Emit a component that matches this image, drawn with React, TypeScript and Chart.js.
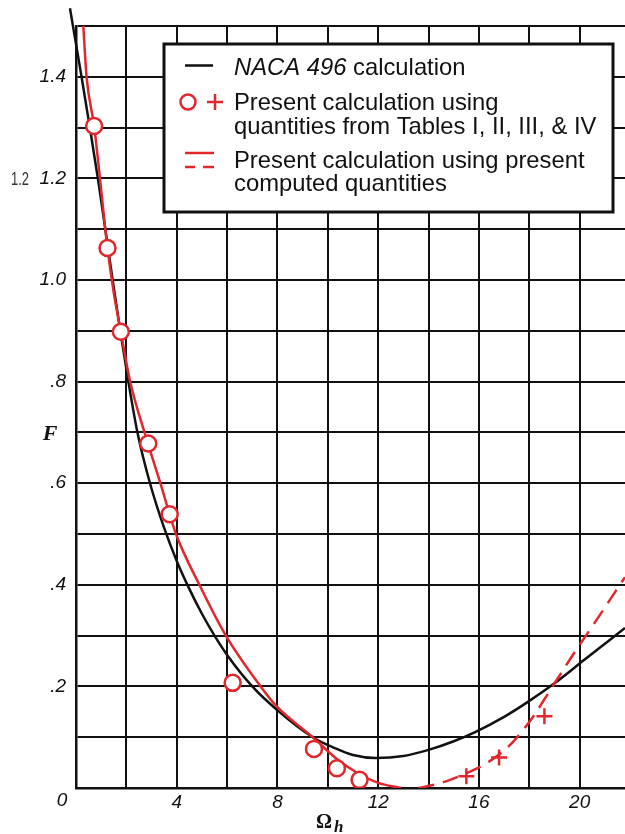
import React, { useEffect, useRef } from "react";
import { Chart, registerables } from "chart.js";

Chart.register(...registerables);

// ---------- data ----------
const nacaX = [-0.24, 0.22, 0.55, 0.9, 1.25, 1.5, 1.78, 2.08, 2.44, 2.95, 3.5, 4.0, 4.5, 5.0, 5.5, 6.0, 7.0, 8.0, 9.4, 10.3, 11.0, 11.9, 13.0, 14.0, 15.0, 15.85, 17.0, 17.9, 19.0, 20.2, 21.0, 21.8];
const nacaF = [1.535, 1.4, 1.3, 1.19, 1.07, 0.985, 0.893, 0.8, 0.7, 0.598, 0.512, 0.447, 0.392, 0.343, 0.3, 0.262, 0.2, 0.153, 0.1, 0.078, 0.065, 0.059, 0.063, 0.075, 0.092, 0.11, 0.14, 0.168, 0.206, 0.253, 0.284, 0.315];

const presentSolidX = [0.29, 0.42, 0.72, 1.25, 1.5, 1.78, 2.15, 2.72, 3.35, 3.97, 4.9, 5.95, 7.33, 8.0, 9.4, 10.36, 11.26, 12.0, 12.9];
const presentSolidF = [1.5, 1.4, 1.303, 1.063, 0.975, 0.898, 0.8, 0.7, 0.6, 0.5, 0.4, 0.3, 0.2, 0.159, 0.1, 0.057, 0.027, 0.01, 0.0];

const presentDashX = [13.6, 14.5, 15.45, 16.4, 17.3, 18.1, 18.9, 19.65, 20.7, 21.8];
const presentDashF = [0.0, 0.01, 0.028, 0.052, 0.088, 0.137, 0.198, 0.256, 0.333, 0.415];

const circleX = [0.72, 1.25, 1.78, 2.87, 3.72, 6.22, 9.45, 10.36, 11.26];
const circleF = [1.303, 1.063, 0.898, 0.678, 0.539, 0.207, 0.077, 0.039, 0.016];

const plusX = [15.5, 16.8, 18.6];
const plusF = [0.023, 0.06, 0.141];

const xTickLabels = ["4", "8", "12", "16", "20"];
const yTickLabels = [".2", ".4", ".6", ".8", "1.0", "1.2", "1.4"];

const legendLines = [
  "calculation",
  "Present calculation using",
  "quantities from Tables I, II, III, & IV",
  "Present calculation using present",
  "computed quantities",
];
const legendItalic = "NACA 496";

const RED = "#e1262c";
const BLACK = "#111111";

const pts = (xs: number[], ys: number[]) => xs.map((x, i) => ({ x, y: ys[i] }));

const decorPlugin = {
  id: "decor",
  afterDraw(chart: any) {
    const ctx = chart.ctx as CanvasRenderingContext2D;
    const xs = chart.scales.x;
    const ys = chart.scales.y;
    ctx.save();

    // "0" origin label
    ctx.fillStyle = BLACK;
    ctx.font = 'italic 19px "Liberation Sans", Arial, sans-serif';
    ctx.textAlign = "center";
    ctx.textBaseline = "middle";
    ctx.fillText("0", xs.getPixelForValue(0) - 14, ys.getPixelForValue(0) + 13);

    // F axis title
    ctx.font = 'bold italic 22px "Liberation Serif", "DejaVu Serif", serif';
    ctx.fillText("F", 50, ys.getPixelForValue(0.697));

    // Omega_h axis title
    ctx.font = 'bold 20px "Liberation Serif", "DejaVu Serif", serif';
    ctx.textAlign = "center";
    ctx.fillText("\u03A9", 324, 823);
    ctx.font = 'bold italic 17px "Liberation Serif", "DejaVu Serif", serif';
    ctx.textAlign = "left";
    ctx.fillText("h", 334, 828);

    // stray "1.2" annotation
    ctx.save();
    ctx.translate(20, ys.getPixelForValue(1.2) + 7);
    ctx.scale(0.68, 1);
    ctx.font = '19px "Liberation Sans", Arial, sans-serif';
    ctx.fillStyle = "#333";
    ctx.textAlign = "center";
    ctx.textBaseline = "alphabetic";
    ctx.fillText("1.2", 0, 0);
    ctx.restore();

    // legend box
    const bx = 164, by = 44, bw = 449, bh = 168;
    ctx.fillStyle = "#ffffff";
    ctx.fillRect(bx, by, bw, bh);
    ctx.strokeStyle = BLACK;
    ctx.lineWidth = 3;
    ctx.strokeRect(bx, by, bw, bh);

    // symbols
    ctx.lineWidth = 2.5;
    ctx.strokeStyle = BLACK;
    ctx.beginPath();
    ctx.moveTo(185, 65.5);
    ctx.lineTo(213, 65.5);
    ctx.stroke();

    ctx.strokeStyle = RED;
    ctx.beginPath();
    ctx.arc(188, 102, 7.5, 0, Math.PI * 2);
    ctx.stroke();
    ctx.beginPath();
    ctx.moveTo(207, 102);
    ctx.lineTo(223, 102);
    ctx.moveTo(215, 94);
    ctx.lineTo(215, 110);
    ctx.stroke();

    ctx.beginPath();
    ctx.moveTo(185, 153);
    ctx.lineTo(214, 153);
    ctx.moveTo(185, 167);
    ctx.lineTo(195, 167);
    ctx.moveTo(203, 167);
    ctx.lineTo(214, 167);
    ctx.stroke();

    // texts
    ctx.fillStyle = BLACK;
    ctx.textAlign = "left";
    ctx.textBaseline = "alphabetic";
    const tx = 234;
    ctx.font = 'italic 23.8px "Liberation Sans", Arial, sans-serif';
    ctx.fillText(legendItalic, tx, 75);
    const w = ctx.measureText(legendItalic + " ").width;
    ctx.font = '23.8px "Liberation Sans", Arial, sans-serif';
    ctx.fillText(legendLines[0], tx + w, 75);
    const baselines = [110, 134, 168, 191];
    for (let i = 1; i < legendLines.length; i++) {
      ctx.fillText(legendLines[i], tx, baselines[i - 1]);
    }

    ctx.restore();
  },
};

export default function App() {
  const ref = useRef<HTMLCanvasElement | null>(null);

  useEffect(() => {
    if (!ref.current) return;
    const tickFont = { family: '"Liberation Sans", Arial, sans-serif', size: 19, style: "italic" as const };
    const chart = new Chart(ref.current, {
      type: "scatter",
      data: {
        datasets: [
          {
            label: "circles",
            data: pts(circleX, circleF),
            pointStyle: "circle",
            pointRadius: 8,
            pointBackgroundColor: "#ffffff",
            pointBorderColor: RED,
            pointBorderWidth: 2.5,
            showLine: false,
          },
          {
            label: "plus",
            data: pts(plusX, plusF),
            pointStyle: "cross",
            pointRadius: 8,
            pointBorderColor: RED,
            pointBorderWidth: 2.5,
            showLine: false,
          },
          {
            label: "present solid",
            data: pts(presentSolidX, presentSolidF),
            showLine: true,
            borderColor: RED,
            borderWidth: 2.5,
            pointRadius: 0,
            cubicInterpolationMode: "monotone",
          },
          {
            label: "present dashed",
            data: pts(presentDashX, presentDashF),
            showLine: true,
            borderColor: RED,
            borderWidth: 2.5,
            borderDash: [16, 9],
            pointRadius: 0,
            cubicInterpolationMode: "monotone",
          },
          {
            label: "NACA 496",
            data: pts(nacaX, nacaF),
            showLine: true,
            borderColor: BLACK,
            borderWidth: 2.5,
            pointRadius: 0,
            cubicInterpolationMode: "monotone",
            clip: false,
          },
        ] as any,
      },
      options: {
        animation: false,
        responsive: false,
        devicePixelRatio: 1,
        layout: { autoPadding: false, padding: { top: 26, right: 0, left: 0, bottom: 0 } },
        plugins: { legend: { display: false }, tooltip: { enabled: false } },
        scales: {
          x: {
            type: "linear",
            min: 0,
            max: 21.8,
            afterFit: (s: any) => { s.height = 46; s.paddingLeft = 0; s.paddingRight = 0; },
            ticks: {
              stepSize: 2,
              includeBounds: false,
              autoSkip: false,
              maxRotation: 0,
              padding: 3,
              color: BLACK,
              font: tickFont,
              callback: (v: any) => {
                const n = Math.round(Number(v));
                const idx = xTickLabels.indexOf(String(n));
                return idx >= 0 && n % 4 === 0 ? xTickLabels[idx] : "";
              },
            },
            grid: { color: BLACK, lineWidth: 2, drawTicks: false },
            border: { color: BLACK, width: 2.5 },
          },
          y: {
            type: "linear",
            min: 0,
            max: 1.5,
            afterFit: (s: any) => { s.width = 76; s.paddingTop = 0; s.paddingBottom = 0; },
            ticks: {
              stepSize: 0.1,
              autoSkip: false,
              padding: 10,
              color: BLACK,
              font: tickFont,
              callback: (v: any) => {
                const k = Math.round(Number(v) * 10);
                if (k === 0 || k % 2 !== 0) return "";
                return yTickLabels[k / 2 - 1] ?? "";
              },
            },
            grid: { color: BLACK, lineWidth: 2, drawTicks: false },
            border: { color: BLACK, width: 2.5 },
          },
        },
      } as any,
      plugins: [decorPlugin],
    });
    return () => chart.destroy();
  }, []);

  return (
    <div style={{ position: "absolute", left: 0, top: 0, width: 625, height: 834, overflow: "hidden", background: "#fff" }}>
      <canvas ref={ref} width={625} height={834} style={{ display: "block" }} />
    </div>
  );
}
